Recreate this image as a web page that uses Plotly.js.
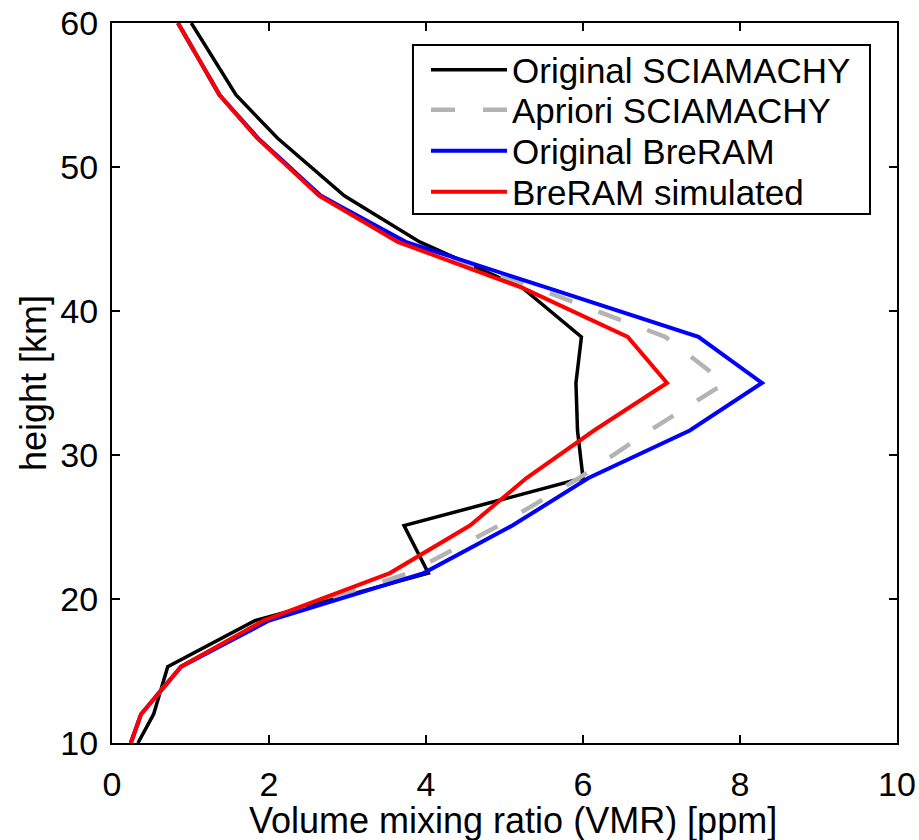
<!DOCTYPE html>
<html>
<head>
<meta charset="utf-8">
<script src="https://cdn.plot.ly/plotly-3.0.1.min.js"></script>
<style>html,body{margin:0;padding:0;background:#fff;}#chart{width:919px;height:840px;}</style>
</head>
<body>
<div id="chart"></div>
<script>
var heights = [10, 12, 15.3, 18.5, 21.8, 25.1, 28.4, 31.7, 35, 38.2, 41.6, 44.8, 48, 52, 55, 60];
var origSciamachy = [0.33, 0.53, 0.71, 1.82, 4.03, 3.72, 6.0, 5.93, 5.91, 5.98, 5.23, 3.92, 2.96, 2.11, 1.58, 1.01];
var aprioriSciamachy = [0.24, 0.37, 0.88, 1.97, 3.78, 4.93, 5.95, 6.85, 7.81, 7.05, 5.4, 3.72, 2.66, 1.86, 1.37, 0.84];
var origBreram = [0.24, 0.37, 0.88, 2.0, 3.97, 5.1, 6.07, 7.36, 8.28, 7.47, 5.55, 3.74, 2.66, 1.86, 1.37, 0.84];
var breramSimulated = [0.24, 0.37, 0.88, 1.93, 3.54, 4.56, 5.28, 6.14, 7.07, 6.57, 5.23, 3.64, 2.64, 1.85, 1.37, 0.84];
var seriesNames = ['Original SCIAMACHY', 'Apriori SCIAMACHY', 'Original BreRAM', 'BreRAM simulated'];
var xTicks = [0, 2, 4, 6, 8, 10];
var yTicks = [10, 20, 30, 40, 50, 60];
var xTitle = 'Volume mixing ratio (VMR) [ppm]';
var yTitle = 'height [km]';

var FONT = 'Liberation Sans, Arial, Helvetica, sans-serif';
var legendIds = ['legend', 'legend2', 'legend3', 'legend4'];
var traces = [
  {x: origSciamachy, y: heights, name: seriesNames[0], legend: legendIds[0], mode: 'lines', line: {color: '#000000', width: 3.5}},
  {x: aprioriSciamachy, y: heights, name: seriesNames[1], legend: legendIds[1], mode: 'lines', line: {color: '#b3b3b3', width: 4.5, dash: '24px,28px'}},
  {x: origBreram, y: heights, name: seriesNames[2], legend: legendIds[2], mode: 'lines', line: {color: '#0000ff', width: 4}},
  {x: breramSimulated, y: heights, name: seriesNames[3], legend: legendIds[3], mode: 'lines', line: {color: '#ff0000', width: 4}}
];
var axisCommon = {
  showline: true, linecolor: '#000', linewidth: 2, mirror: 'ticks',
  ticks: 'inside', ticklen: 8, tickwidth: 1.5, tickcolor: '#000',
  showgrid: false, zeroline: false, tickfont: {family: FONT, size: 34, color: '#000'}
};
var legendRowY = [0.9347, 0.8792, 0.8222, 0.7653];
var layout = {
  width: 919, height: 840,
  margin: {l: 112, r: 22, t: 23, b: 97},
  paper_bgcolor: '#fff', plot_bgcolor: '#fff',
  font: {family: FONT, color: '#000'},
  showlegend: true,
  xaxis: Object.assign({}, axisCommon, {
    range: [0, 10], tickvals: xTicks, ticktext: xTicks.map(String), ticklabelstandoff: 10
  }),
  yaxis: Object.assign({}, axisCommon, {
    range: [10, 60], tickvals: yTicks, ticktext: yTicks.map(String), ticklabelstandoff: 5,
    title: {text: yTitle, font: {family: FONT, size: 36, color: '#000'}, standoff: 3}
  }),
  annotations: [{
    text: xTitle, xref: 'paper', yref: 'paper', x: 0.511, y: 0,
    xanchor: 'center', yanchor: 'top', yshift: -55, showarrow: false,
    font: {family: FONT, size: 36, color: '#000'}
  }],
  shapes: [{
    type: 'rect', xref: 'paper', yref: 'paper',
    x0: 0.3834, x1: 0.9656, y0: 0.7347, y1: 0.9694,
    line: {color: '#000', width: 2}, fillcolor: 'rgba(0,0,0,0)'
  }]
};
legendIds.forEach(function (id, i) {
  layout[id] = {
    x: 0.4, y: legendRowY[i], xanchor: 'left', yanchor: 'middle',
    borderwidth: 0, bgcolor: 'rgba(0,0,0,0)',
    font: {family: FONT, size: 35, color: '#000'},
    itemwidth: 76
  };
});
Plotly.newPlot('chart', traces, layout, {displayModeBar: false, staticPlot: true});
</script>
</body>
</html>
